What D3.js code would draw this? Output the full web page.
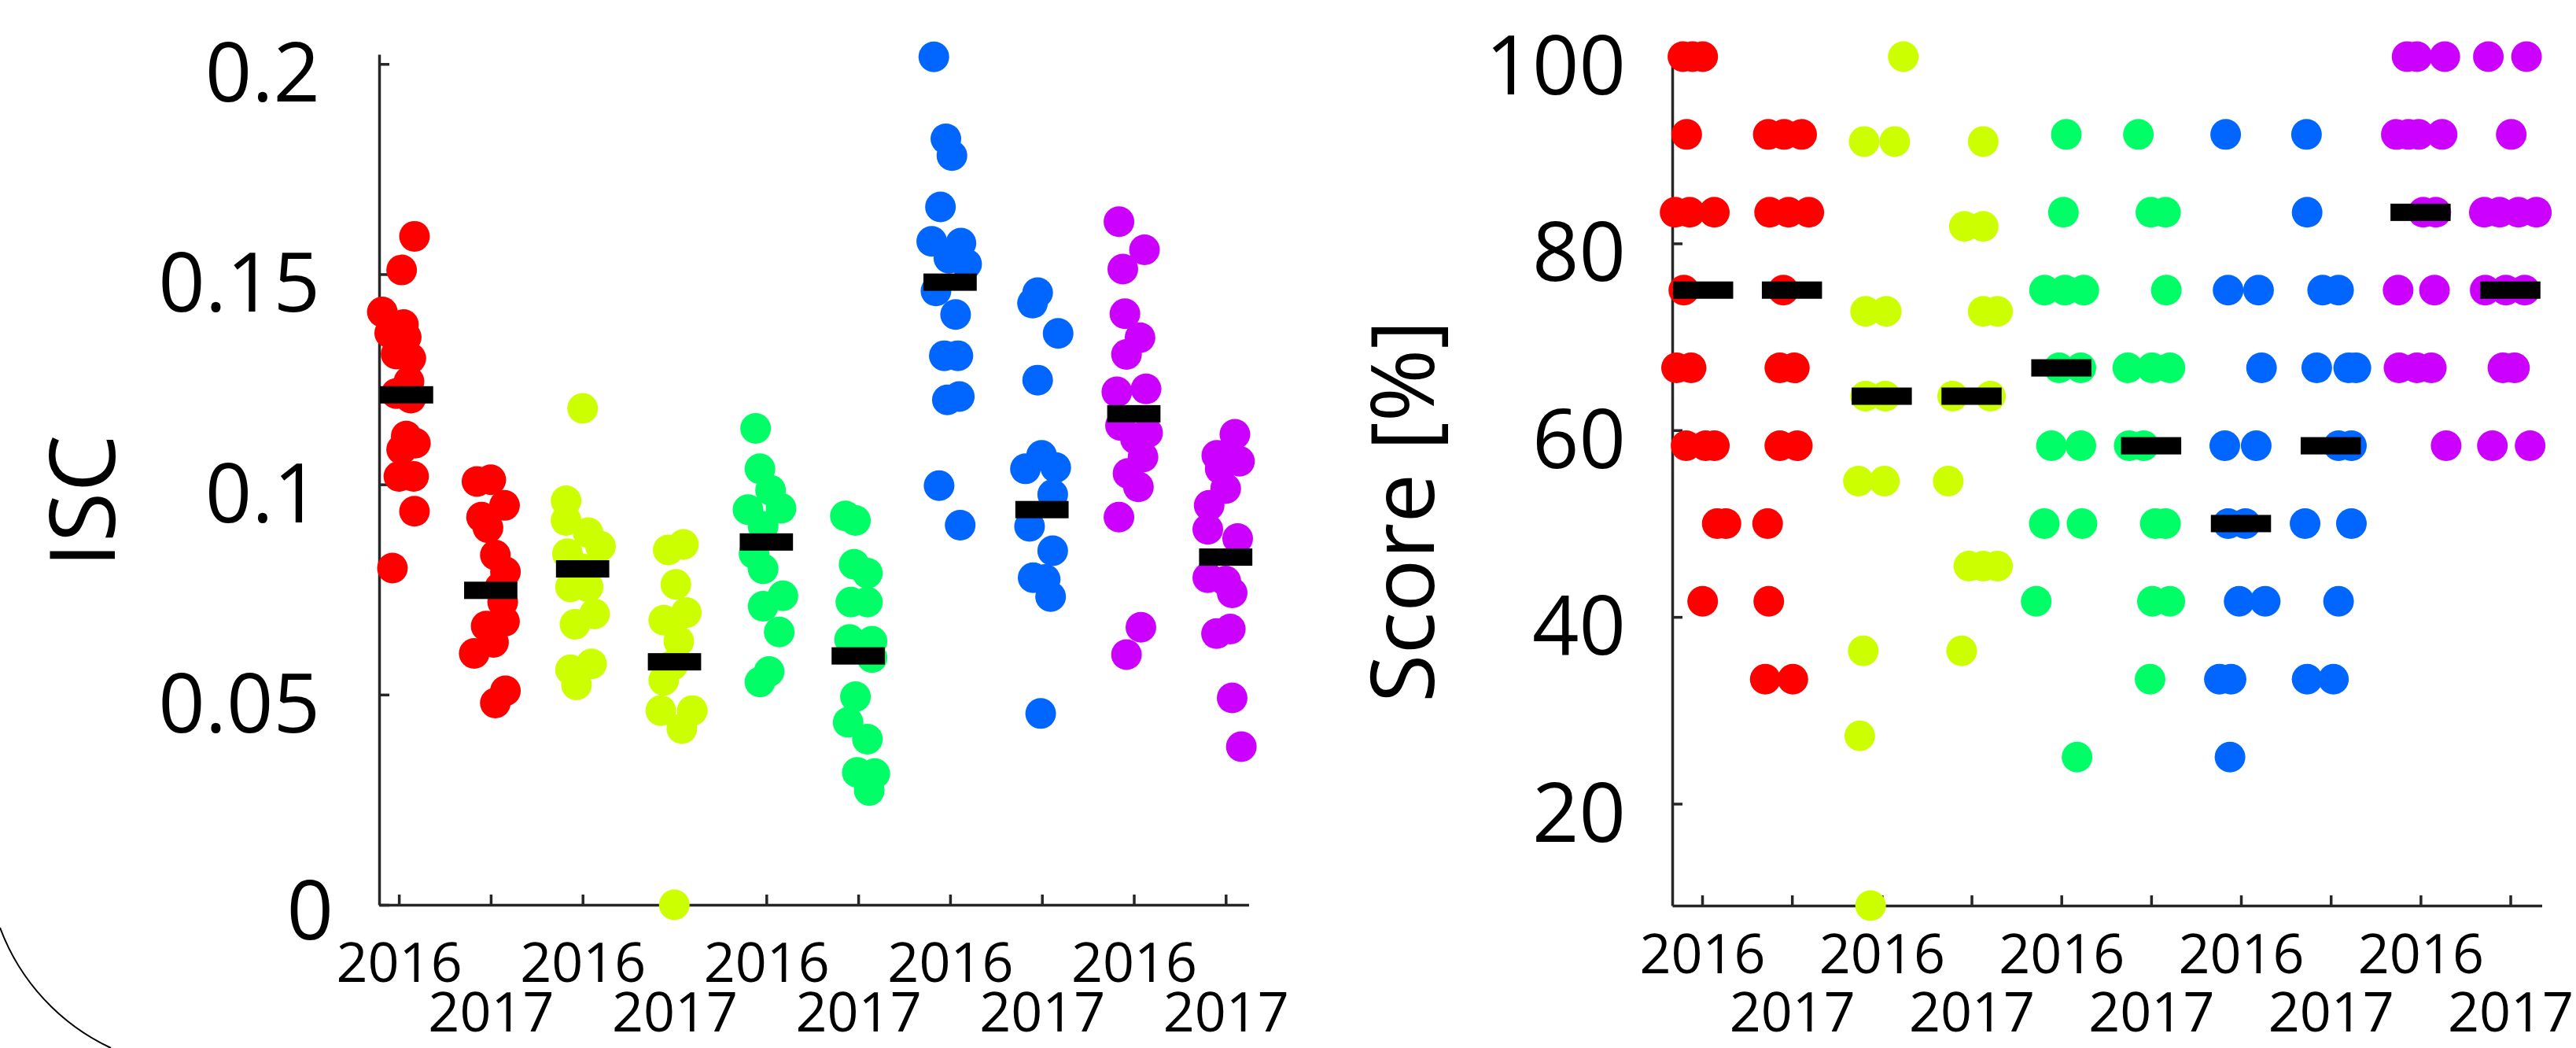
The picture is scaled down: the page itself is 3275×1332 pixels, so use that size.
<!DOCTYPE html>
<html>
<head>
<meta charset="utf-8">
<script src="https://cdn.jsdelivr.net/npm/d3@7"></script>
<style>
  html, body { margin: 0; padding: 0; background: #fff; }
  svg { display: block; }
  text { font-family: "Open Sans", "Noto Sans", sans-serif; fill: #000; }
</style>
</head>
<body>
<svg id="chart"></svg>
<script>
const width = 3275;
const height = 1332;

// x categories 1..10, alternating years
const yearLabels = ["2016", "2017", "2016", "2017", "2016", "2017", "2016", "2017", "2016", "2017"];
const groupColors = ["#ff0000", "#ff0000", "#ccff00", "#ccff00", "#00ff66", "#00ff66", "#0066ff", "#0066ff", "#cc00ff", "#cc00ff"];

const iscTicks = [0, 0.05, 0.1, 0.15, 0.2];
const scoreTicks = [20, 40, 60, 80, 100];

// ISC points: [spread position on category axis, ISC]
const iscRed16 = [[1.17,0.159],[1.03,0.151],[0.82,0.141],[1.05,0.138],[0.90,0.136],[1.08,0.135],[0.97,0.131],[1.13,0.130],[1.11,0.1245],[0.97,0.1216],[1.13,0.1205],[1.08,0.1115],[1.18,0.1098],[1.03,0.1083],[1.00,0.1019],[1.16,0.1019],[1.17,0.0936],[0.93,0.0801]];
const iscRed17 = [[1.85,0.1007],[2.00,0.1011],[2.15,0.0950],[1.90,0.0922],[1.97,0.0897],[2.05,0.0832],[2.16,0.0792],[2.10,0.0755],[2.13,0.0720],[1.95,0.0663],[2.15,0.0674],[2.03,0.0624],[1.82,0.0598],[2.16,0.0509],[2.05,0.0480]];
const iscYel16 = [[3.00,0.1181],[2.82,0.0961],[2.82,0.0914],[3.06,0.0885],[3.195,0.0853],[2.835,0.0835],[3.00,0.0799],[2.868,0.0756],[3.06,0.0756],[3.13,0.0692],[2.917,0.0667],[2.868,0.0559],[3.097,0.0573],[2.933,0.0523]];
const iscYel17 = [[4.097,0.0857],[3.932,0.0844],[4.015,0.0762],[4.129,0.0695],[3.883,0.0677],[4.047,0.0627],[3.98,0.0570],[3.883,0.0534],[3.851,0.0462],[4.194,0.0462],[4.08,0.0419],[3.998,0.0]];
const iscGrn16 = [[4.883,0.1133],[4.93,0.1037],[5.046,0.0986],[4.80,0.0940],[5.16,0.0943],[4.965,0.0900],[4.866,0.0835],[4.965,0.0799],[5.18,0.0735],[4.965,0.0710],[5.14,0.0649],[5.03,0.0555],[4.93,0.0530]];
const iscGrn17 = [[5.86,0.0925],[5.97,0.0914],[5.955,0.0810],[6.10,0.0789],[5.92,0.0720],[6.10,0.0720],[5.906,0.0631],[6.15,0.0627],[6.15,0.0588],[5.97,0.0495],[5.89,0.0434],[6.10,0.0394],[5.99,0.0315],[6.18,0.0312],[6.12,0.0272]];
const iscBlu16 = [[6.823,0.2017],[6.954,0.1822],[7.02,0.1782],[6.895,0.1660],[6.80,0.1578],[7.118,0.1574],[6.987,0.1538],[7.18,0.1524],[6.846,0.1460],[7.06,0.1404],[6.937,0.1306],[7.085,0.1306],[6.97,0.1201],[7.10,0.1209],[6.88,0.0997],[7.11,0.0903]];
const iscBlu17 = [[7.953,0.1456],[7.897,0.1431],[8.176,0.1359],[7.953,0.1248],[7.996,0.1069],[7.82,0.1037],[8.15,0.1040],[8.117,0.0976],[7.865,0.0900],[8.117,0.0842],[7.904,0.0778],[8.035,0.0774],[8.094,0.0733],[7.986,0.0455]];
const iscPur16 = [[8.838,0.1625],[9.116,0.1558],[8.88,0.1512],[8.903,0.1406],[9.067,0.1349],[8.92,0.1309],[8.815,0.1220],[9.133,0.1227],[8.855,0.1140],[9.15,0.1123],[9.018,0.1108],[9.10,0.1065],[8.937,0.1026],[9.05,0.0994],[8.838,0.0922],[9.077,0.0660],[8.92,0.0595]];
const iscPur17 = [[10.10,0.1119],[9.903,0.1069],[10.15,0.1055],[9.94,0.1037],[10.0,0.0990],[9.82,0.0950],[9.805,0.0893],[10.13,0.0871],[9.805,0.0778],[10.0,0.0770],[10.07,0.0742],[9.90,0.0645],[10.05,0.0656],[10.07,0.0492],[10.17,0.0376]];
const iscMedians = [0.1213, 0.0748, 0.0799, 0.0578, 0.0863, 0.0592, 0.1481, 0.0940, 0.1168, 0.0827];

// Score points: [spread position on category axis, score %]
const scoreRed16 = [[0.786,100],[0.893,100],[1.006,100],[0.828,91.67],[0.699,83.33],[0.861,83.33],[1.136,83.33],[0.796,75],[0.715,66.67],[0.877,66.67],[0.822,58.33],[1.039,58.33],[1.136,58.33],[1.168,50],[1.265,50],[1.006,41.67]];
const scoreRed17 = [[1.736,91.67],[1.913,91.67],[2.108,91.67],[1.751,83.33],[1.962,83.33],[2.188,83.33],[1.904,75],[1.865,66.67],[2.027,66.67],[1.865,58.33],[2.06,58.33],[1.729,50],[1.742,41.67],[1.703,33.33],[2.01,33.33]];
const scoreYel16 = [[3.24,100],[2.804,90.91],[3.145,90.91],[2.82,72.73],[3.05,72.73],[2.82,63.64],[3.04,63.64],[2.74,54.55],[3.03,54.55],[2.794,36.36],[2.755,27.27],[2.876,9.09]];
const scoreYel17 = [[4.13,90.91],[3.92,81.82],[4.13,81.82],[4.13,72.73],[4.29,72.73],[3.79,63.64],[4.21,63.64],[3.74,54.55],[3.97,45.45],[4.13,45.45],[4.29,45.45],[3.89,36.36]];
const scoreGrn16 = [[5.055,91.67],[5.023,83.33],[4.813,75],[5.04,75],[5.25,75],[4.975,66.67],[5.217,66.67],[4.89,58.33],[5.217,58.33],[4.81,50],[5.23,50],[4.72,41.67],[5.175,25]];
const scoreGrn17 = [[5.858,91.67],[5.997,83.33],[6.16,83.33],[6.169,75],[5.74,66.67],[6.01,66.67],[6.21,66.67],[5.755,58.33],[5.917,58.33],[6.046,50],[6.16,50],[6.014,41.67],[6.208,41.67],[5.988,33.33]];
const scoreBlu16 = [[6.83,91.67],[6.857,75],[7.196,75],[7.229,66.67],[6.82,58.33],[7.17,58.33],[6.857,50],[7.05,50],[6.98,41.67],[7.27,41.67],[6.76,33.33],[6.89,33.33],[6.878,25]];
const scoreBlu17 = [[7.73,91.67],[7.737,83.33],[7.91,75],[8.087,75],[7.844,66.67],[8.2,66.67],[8.28,66.67],[8.087,58.33],[8.23,58.33],[7.714,50],[8.23,50],[8.087,41.67],[7.737,33.33],[8.03,33.33]];
const scorePur16 = [[8.85,100],[8.96,100],[9.27,100],[8.73,91.67],[8.865,91.67],[8.98,91.67],[9.24,91.67],[9.03,83.33],[9.17,83.33],[8.75,75],[9.155,75],[8.76,66.67],[8.96,66.67],[9.12,66.67],[9.285,58.33]];
const scorePur17 = [[9.755,100],[10.18,100],[10.01,91.67],[9.71,83.33],[9.88,83.33],[10.09,83.33],[10.29,83.33],[9.72,75],[9.95,75],[10.16,75],[9.917,66.67],[10.046,66.67],[9.8,58.33],[10.22,58.33]];
const scoreMedians = [75, 75, 63.64, 63.64, 66.67, 58.33, 50, 58.33, 83.33, 75];

const iscGroups = [iscRed16, iscRed17, iscYel16, iscYel17, iscGrn16, iscGrn17, iscBlu16, iscBlu17, iscPur16, iscPur17];
const scoreGroups = [scoreRed16, scoreRed17, scoreYel16, scoreYel17, scoreGrn16, scoreGrn17, scoreBlu16, scoreBlu17, scorePur16, scorePur17];

const axisColor = "#262626";
const dotR = 19.5;
const barH = 22;

const svg = d3.select("#chart").attr("width", width).attr("height", height);

function drawPanel(opts) {
  const g = svg.append("g");
  const x = opts.x, y = opts.y;
  const y0 = y.range()[0];

  const xAxis = d3.axisBottom(x)
    .tickValues(d3.range(1, 11))
    .tickSizeInner(-13)
    .tickSizeOuter(0)
    .tickFormat((d, i) => yearLabels[i]);

  const yAxis = d3.axisLeft(y)
    .tickValues(opts.ticks)
    .tickSizeInner(-13)
    .tickSizeOuter(0)
    .tickFormat(opts.fmt);

  const gx = g.append("g")
    .attr("transform", "translate(0," + y0 + ")")
    .call(xAxis);
  gx.selectAll("text")
    .attr("dy", null)
    .attr("y", (d, i) => (i % 2 === 0 ? opts.row1 : opts.row2))
    .style("font-size", "70px");

  const gy = g.append("g")
    .attr("transform", "translate(" + x.range()[0] + ",0)")
    .call(yAxis);
  gy.selectAll("text")
    .attr("dy", null)
    .attr("x", opts.labelX)
    .attr("y", opts.labelY)
    .style("font-size", "104px");

  g.selectAll(".domain, .tick line")
    .attr("stroke", axisColor)
    .attr("stroke-width", 3.5);

  g.append("text")
    .attr("transform", "translate(" + opts.titlePos[0] + "," + opts.titlePos[1] + ") rotate(-90)")
    .attr("text-anchor", "middle")
    .style("font-size", opts.titleSize + "px")
    .text(opts.title);

  // points
  opts.groups.forEach((pts, gi) => {
    g.append("g")
      .selectAll("circle")
      .data(pts)
      .enter()
      .append("circle")
      .attr("cx", d => x(d[0]))
      .attr("cy", d => y(d[1]))
      .attr("r", dotR)
      .attr("fill", groupColors[gi]);
  });

  // median bars
  const bw = x(1 + opts.barW) - x(1);
  g.append("g")
    .selectAll("rect")
    .data(opts.medians)
    .enter()
    .append("rect")
    .attr("x", (d, i) => Math.max(x(i + 1) - bw / 2, x.range()[0] + 1))
    .attr("y", d => y(d) - barH / 2)
    .attr("width", bw)
    .attr("height", barH)
    .attr("fill", "#000");
}

// left panel: ISC
drawPanel({
  x: d3.scaleLinear().domain([0.785, 10.25]).range([482, 1587.5]),
  y: d3.scaleLinear().domain([0, 0.2023]).range([1150, 69]),
  ticks: iscTicks,
  fmt: d => (d === 0 ? "0" : String(d)),
  labelX: d => (d === 0 ? -58 : -75),
  labelY: d => (d === 0 ? 43 : 47.5),
  row1: 98,
  row2: 161,
  title: "ISC",
  titlePos: [146, 637],
  titleSize: 116,
  groups: iscGroups,
  medians: iscMedians,
  barW: 0.58
});

// right panel: Score
drawPanel({
  x: d3.scaleLinear().domain([0.667, 10.35]).range([2126, 3231.5]),
  y: d3.scaleLinear().domain([9.09, 100]).range([1151, 72]),
  ticks: scoreTicks,
  fmt: d => String(d),
  labelX: -59,
  labelY: 47.5,
  row1: 86,
  row2: 160,
  title: "Score [%]",
  titlePos: [1823, 650],
  titleSize: 112,
  groups: scoreGroups,
  medians: scoreMedians,
  barW: 0.67
});

// stray arc in the lower left corner
svg.append("path")
  .attr("d", "M0,1179 A274,274 0 0,0 141,1332")
  .attr("fill", "none")
  .attr("stroke", "#000")
  .attr("stroke-width", 2);
</script>
</body>
</html>
